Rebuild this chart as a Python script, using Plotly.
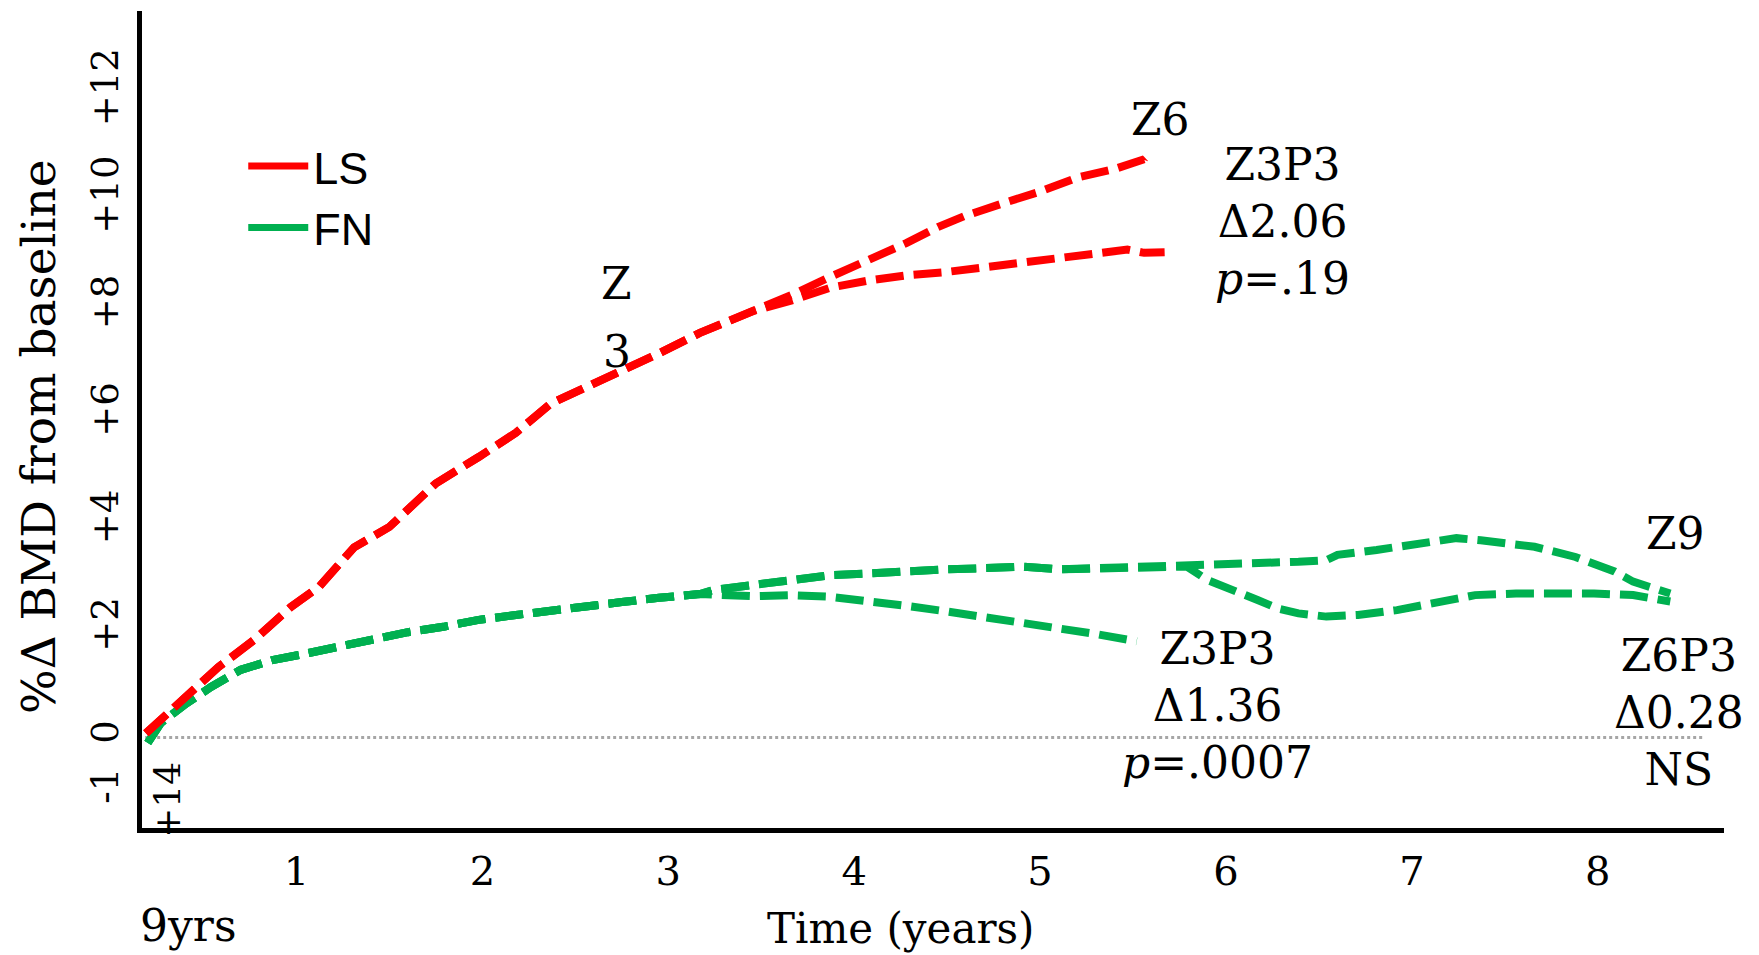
import plotly.graph_objects as go

# ---------------- data ----------------
# Lumbar spine (LS): shared path, then Z6 and Z3P3 branches
ls_common_t = [0.19, 0.37, 0.58, 0.77, 0.97, 1.12, 1.31, 1.50, 1.66, 1.75, 1.98, 2.18, 2.37, 2.56, 2.73, 2.95, 3.17, 3.46]
ls_common_v = [0.08, 0.64, 1.31, 1.81, 2.43, 2.80, 3.54, 3.92, 4.47, 4.73, 5.22, 5.67, 6.22, 6.52, 6.80, 7.15, 7.53, 7.94]
ls_z6_t = [3.66, 3.87, 4.07, 4.28, 4.45, 4.59, 4.79, 5.00, 5.21, 5.41, 5.56, 5.54]
ls_z6_v = [8.23, 8.57, 8.87, 9.20, 9.50, 9.70, 9.93, 10.16, 10.43, 10.59, 10.76, 10.59]
ls_z3p3_t = [3.66, 3.87, 4.07, 4.28, 4.49, 4.69, 4.90, 5.10, 5.31, 5.47, 5.56, 5.67]
ls_z3p3_v = [8.13, 8.37, 8.50, 8.60, 8.66, 8.74, 8.83, 8.90, 8.98, 9.08, 9.02, 9.03]

# Femoral neck (FN): shared path, Z3P3 branch, Z6/Z9 shared, then Z9 and Z6P3
fn_common_t = [0.20, 0.27, 0.41, 0.54, 0.70, 0.87, 1.02, 1.22, 1.41, 1.60, 1.79, 1.98, 2.18, 2.37, 2.56, 2.75, 2.95, 3.17]
fn_common_v = [-0.10, 0.27, 0.64, 0.94, 1.26, 1.44, 1.54, 1.68, 1.85, 1.96, 2.06, 2.19, 2.28, 2.37, 2.43, 2.52, 2.60, 2.67]
fn_z3p3_t = [3.46, 3.66, 3.87, 4.07, 4.28, 4.49, 4.69, 4.90, 5.10, 5.31, 5.52]
fn_z3p3_v = [2.63, 2.65, 2.62, 2.55, 2.45, 2.35, 2.25, 2.15, 2.02, 1.92, 1.79]
fn_z6z9_t = [3.25, 3.46, 3.66, 3.87, 4.07, 4.28, 4.49, 4.69, 4.90, 5.10, 5.31, 5.52, 5.72, 5.79]
fn_z6z9_v = [2.75, 2.85, 2.95, 3.02, 3.05, 3.10, 3.13, 3.15, 3.18, 3.13, 3.15, 3.16, 3.18, 3.18]
fn_z9_t = [5.96, 6.17, 6.39, 6.54, 6.60, 6.81, 7.02, 7.24, 7.37, 7.45, 7.66, 7.88, 7.98, 8.09, 8.19, 8.30, 8.39]
fn_z9_v = [3.21, 3.24, 3.27, 3.30, 3.40, 3.49, 3.61, 3.71, 3.67, 3.64, 3.55, 3.36, 3.24, 3.09, 2.90, 2.78, 2.68]
fn_z6p3_t = [5.90, 5.96, 6.07, 6.17, 6.28, 6.39, 6.54, 6.71, 6.92, 7.13, 7.34, 7.56, 7.77, 7.98, 8.19, 8.39]
fn_z6p3_v = [2.93, 2.84, 2.71, 2.56, 2.40, 2.31, 2.25, 2.28, 2.37, 2.50, 2.65, 2.68, 2.69, 2.68, 2.65, 2.53]

x_ticks = [1, 2, 3, 4, 5, 6, 7, 8]
y_ticks = [-1, 0, 2, 4, 6, 8, 10, 12]
y_ticktext = ["-1", "0", "+2", "+4", "+6", "+8", "+10", "+12"]

RED = "#FF0000"
GREEN = "#00B050"
SERIF = "DejaVu Serif"
DASH = "28px,10px"
LW = 8

fig = go.Figure()

def add_line(t, v, color, name):
    fig.add_trace(go.Scatter(x=t, y=v, mode="lines", name=name, showlegend=False,
                             line=dict(color=color, width=LW, dash=DASH)))

add_line(fn_common_t + fn_z3p3_t, fn_common_v + fn_z3p3_v, GREEN, "FN Z3P3")
add_line(fn_common_t + fn_z6z9_t + fn_z9_t, fn_common_v + fn_z6z9_v + fn_z9_v, GREEN, "FN Z9")
add_line(fn_common_t + fn_z6z9_t + fn_z6p3_t, fn_common_v + fn_z6z9_v + fn_z6p3_v, GREEN, "FN Z6P3")
add_line(ls_common_t + ls_z6_t, ls_common_v + ls_z6_v, RED, "LS Z6")
add_line(ls_common_t + ls_z3p3_t, ls_common_v + ls_z3p3_v, RED, "LS Z3P3")

# legend entries (solid samples as in the reference)
fig.add_trace(go.Scatter(x=[None], y=[None], mode="lines", name="LS",
                         line=dict(color=RED, width=7)))
fig.add_trace(go.Scatter(x=[None], y=[None], mode="lines", name="FN",
                         line=dict(color=GREEN, width=7)))

# dotted baseline at 0
fig.add_shape(type="line", xref="paper", yref="y", x0=0.002, x1=0.988, y0=0, y1=0,
              line=dict(color="#A6A6A6", width=3, dash="dot"), layer="below")

ann_font = dict(family=SERIF, size=44, color="black")
def note(x, y, text, **kw):
    fig.add_annotation(x=x, y=y, xref="x", yref="y", text=text, showarrow=False,
                       xanchor="center", yanchor="middle",
                       font=kw.pop("font", ann_font), **kw)

note(5.646, 11.51, "Z6")
note(6.302, 9.61, "Z3P3<br>Δ2.06<br><i>p</i>=.19")
note(2.724, 8.44, "Z")
note(2.724, 7.19, "3")
note(5.953, 0.60, "Z3P3<br>Δ1.36<br><i>p</i>=.0007")
note(8.416, 3.79, "Z9")
note(8.437, 0.46, "Z6P3<br>Δ0.28<br>NS")
note(0.309, -1.16, "+14", textangle=-90, font=dict(family=SERIF, size=36, color="black"))
fig.add_annotation(x=0.417, y=-0.119, xref="x", yref="paper", text="9yrs", showarrow=False,
                   xanchor="center", yanchor="middle", font=ann_font)

# axis titles placed as in the reference
fig.add_annotation(x=0.4798, y=-0.1236, xref="paper", yref="paper", text="Time (years)",
                   showarrow=False, xanchor="center", yanchor="middle",
                   font=dict(family=SERIF, size=42, color="black"))
fig.add_annotation(x=-0.0651, y=0.4786, xref="paper", yref="paper", text="%Δ BMD from baseline",
                   showarrow=False, xanchor="center", yanchor="middle", textangle=-90,
                   font=dict(family=SERIF, size=47, color="black"))

fig.update_layout(
    width=1759, height=955,
    # page body has an 8px offset; margins compensate so the plot area sits where the reference's does
    margin=dict(l=134, r=43, t=3, b=135),
    paper_bgcolor="white", plot_bgcolor="white",
    showlegend=True,
    legend=dict(x=0.064, y=0.854, xanchor="left", yanchor="top", itemwidth=60,
                font=dict(family="Liberation Sans", size=45, color="black"),
                bgcolor="rgba(0,0,0,0)"),
    xaxis=dict(range=[0.169, 8.679], tickvals=x_ticks, ticktext=[str(t) for t in x_ticks],
               showgrid=False, zeroline=False, showline=True, linecolor="black", linewidth=5,
               ticks="", ticklabelstandoff=4,
               tickfont=dict(family=SERIF, size=40, color="black"),
               automargin=False),
    yaxis=dict(range=[-1.684, 13.52], tickvals=y_ticks, ticktext=y_ticktext,
               tickangle=-90,
               showgrid=False, zeroline=False, showline=True, linecolor="black", linewidth=5,
               ticks="", ticklabelstandoff=4,
               tickfont=dict(family=SERIF, size=37, color="black"),
               automargin=False),
)

fig.write_html("out.html")
